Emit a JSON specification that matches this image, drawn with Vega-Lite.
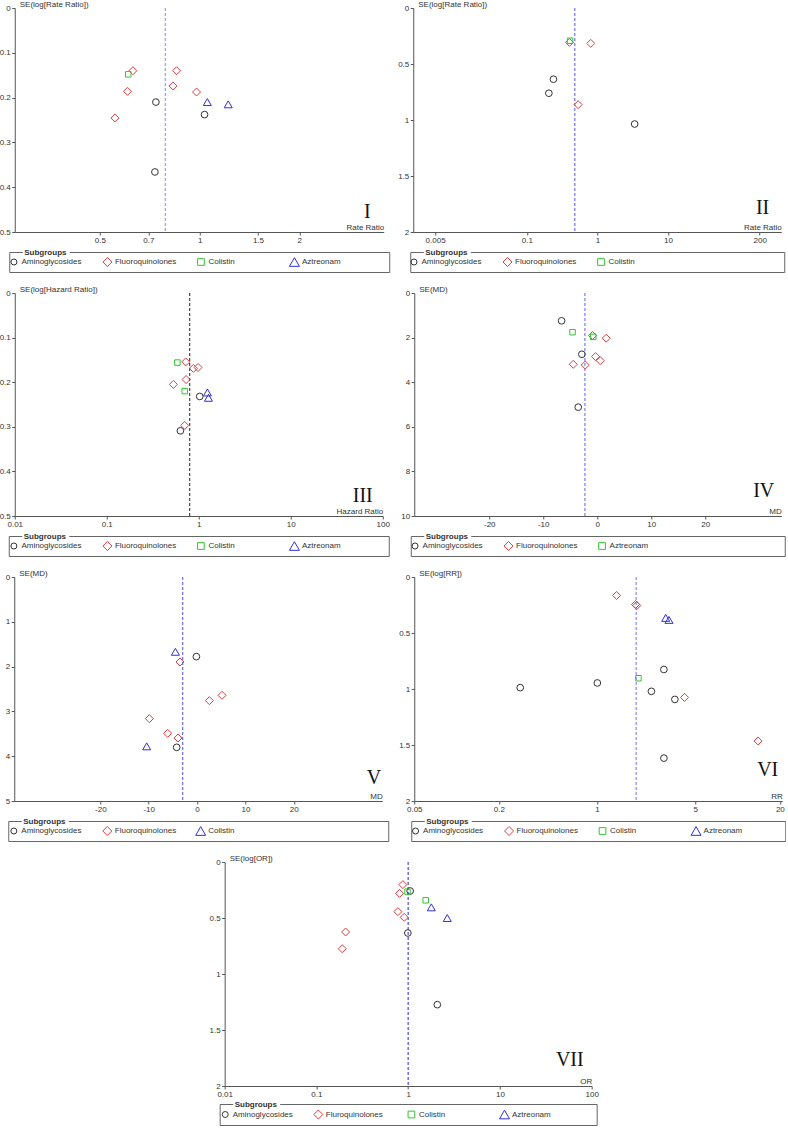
{
  "$schema": "https://vega.github.io/schema/vega-lite/v6.json",
  "background": "white",
  "padding": {"left": -1, "top": 0, "right": 0, "bottom": 0},
  "config": {
    "font": "Liberation Sans",
    "view": {"stroke": null},
    "legend": {"disable": true},
    "axis": {"grid": false, "domainColor": "#555", "tickColor": "#555", "labelColor": "#333", "titleColor": "#333", "labelFontSize": 8, "titleFontSize": 8, "titleFontWeight": "normal", "tickSize": 3, "labelPadding": 1.5, "labelFlush": false, "labelOverlap": false, "domainWidth": 1, "tickWidth": 1, "labelExpr": "'' + datum.value"},
    "axisY": {"titleAngle": 0, "titleAlign": "left", "titleBaseline": "alphabetic", "titleX": 4.5, "titleY": -1.5},
    "axisX": {"titleAlign": "right", "titleAnchor": "end", "titleBaseline": "alphabetic", "titleY": -3}
  },
  "datasets": {
    "I_pts": [
      {"group": "Aminoglycosides", "effect": 0.738, "se": 0.210},
      {"group": "Aminoglycosides", "effect": 1.035, "se": 0.238},
      {"group": "Aminoglycosides", "effect": 0.733, "se": 0.366},
      {"group": "Fluoroquinolones", "effect": 0.629, "se": 0.140},
      {"group": "Fluoroquinolones", "effect": 0.852, "se": 0.140},
      {"group": "Fluoroquinolones", "effect": 0.831, "se": 0.174},
      {"group": "Fluoroquinolones", "effect": 0.606, "se": 0.186},
      {"group": "Fluoroquinolones", "effect": 0.979, "se": 0.1875},
      {"group": "Fluoroquinolones", "effect": 0.555, "se": 0.2455},
      {"group": "Colistin", "effect": 0.609, "se": 0.148},
      {"group": "Aztreonam", "effect": 1.055, "se": 0.210},
      {"group": "Aztreonam", "effect": 1.22, "se": 0.215}
    ],
    "I_pool": [{"pooled": 0.788}],
    "II_pts": [
      {"group": "Aminoglycosides", "effect": 0.238, "se": 0.636},
      {"group": "Aminoglycosides", "effect": 0.205, "se": 0.761},
      {"group": "Aminoglycosides", "effect": 3.375, "se": 1.036},
      {"group": "Fluoroquinolones", "effect": 0.402, "se": 0.307},
      {"group": "Fluoroquinolones", "effect": 0.805, "se": 0.316},
      {"group": "Fluoroquinolones", "effect": 0.533, "se": 0.863},
      {"group": "Colistin", "effect": 0.410, "se": 0.2925}
    ],
    "II_pool": [{"pooled": 0.478}],
    "III_pts": [
      {"group": "Aminoglycosides", "effect": 1.025, "se": 0.232},
      {"group": "Aminoglycosides", "effect": 0.632, "se": 0.309},
      {"group": "Fluoroquinolones", "effect": 0.722, "se": 0.1545},
      {"group": "Fluoroquinolones", "effect": 0.875, "se": 0.169},
      {"group": "Fluoroquinolones", "effect": 0.983, "se": 0.167},
      {"group": "Fluoroquinolones", "effect": 0.728, "se": 0.194},
      {"group": "Fluoroquinolones", "effect": 0.530, "se": 0.205},
      {"group": "Fluoroquinolones", "effect": 0.704, "se": 0.297},
      {"group": "Colistin", "effect": 0.586, "se": 0.156},
      {"group": "Colistin", "effect": 0.704, "se": 0.220},
      {"group": "Aztreonam", "effect": 1.242, "se": 0.223},
      {"group": "Aztreonam", "effect": 1.274, "se": 0.235}
    ],
    "III_pool": [{"pooled": 0.798}],
    "IV_pts": [
      {"group": "Aminoglycosides", "effect": -6.6, "se": 1.246},
      {"group": "Aminoglycosides", "effect": -2.84, "se": 2.748},
      {"group": "Aminoglycosides", "effect": -3.52, "se": 5.12},
      {"group": "Fluoroquinolones", "effect": -0.86, "se": 1.907},
      {"group": "Fluoroquinolones", "effect": 1.67, "se": 2.027},
      {"group": "Fluoroquinolones", "effect": -0.31, "se": 2.853},
      {"group": "Fluoroquinolones", "effect": 0.56, "se": 3.033},
      {"group": "Fluoroquinolones", "effect": -4.44, "se": 3.198},
      {"group": "Fluoroquinolones", "effect": -2.22, "se": 3.228},
      {"group": "Aztreonam", "effect": -4.57, "se": 1.757},
      {"group": "Aztreonam", "effect": -0.74, "se": 1.967}
    ],
    "IV_pool": [{"pooled": -2.28}],
    "V_pts": [
      {"group": "Aminoglycosides", "effect": -0.14, "se": 1.778},
      {"group": "Aminoglycosides", "effect": -4.21, "se": 3.802},
      {"group": "Fluoroquinolones", "effect": -3.52, "se": 1.897},
      {"group": "Fluoroquinolones", "effect": 5.17, "se": 2.641},
      {"group": "Fluoroquinolones", "effect": 2.55, "se": 2.76},
      {"group": "Fluoroquinolones", "effect": -9.86, "se": 3.162},
      {"group": "Fluoroquinolones", "effect": -6.07, "se": 3.49},
      {"group": "Fluoroquinolones", "effect": -3.93, "se": 3.594},
      {"group": "Colistin", "effect": -4.48, "se": 1.67},
      {"group": "Colistin", "effect": -10.41, "se": 3.78}
    ],
    "V_pool": [{"pooled": -2.97}],
    "VI_pts": [
      {"group": "Aminoglycosides", "effect": 2.99, "se": 0.826},
      {"group": "Aminoglycosides", "effect": 0.284, "se": 0.988},
      {"group": "Aminoglycosides", "effect": 1.005, "se": 0.946},
      {"group": "Aminoglycosides", "effect": 2.437, "se": 1.021},
      {"group": "Aminoglycosides", "effect": 3.58, "se": 1.093},
      {"group": "Aminoglycosides", "effect": 2.99, "se": 1.617},
      {"group": "Fluoroquinolones", "effect": 1.378, "se": 0.1647},
      {"group": "Fluoroquinolones", "effect": 1.878, "se": 0.2455},
      {"group": "Fluoroquinolones", "effect": 1.919, "se": 0.2545},
      {"group": "Fluoroquinolones", "effect": 4.194, "se": 1.075},
      {"group": "Fluoroquinolones", "effect": 14.0, "se": 1.464},
      {"group": "Colistin", "effect": 1.971, "se": 0.904},
      {"group": "Aztreonam", "effect": 3.08, "se": 0.365},
      {"group": "Aztreonam", "effect": 3.25, "se": 0.383}
    ],
    "VI_pool": [{"pooled": 1.898}],
    "VII_pts": [
      {"group": "Aminoglycosides", "effect": 1.051, "se": 0.259},
      {"group": "Aminoglycosides", "effect": 0.992, "se": 0.634},
      {"group": "Aminoglycosides", "effect": 2.078, "se": 1.274},
      {"group": "Fluroquinolones", "effect": 0.876, "se": 0.202},
      {"group": "Fluroquinolones", "effect": 0.806, "se": 0.280},
      {"group": "Fluroquinolones", "effect": 0.773, "se": 0.443},
      {"group": "Fluroquinolones", "effect": 0.905, "se": 0.494},
      {"group": "Fluroquinolones", "effect": 0.208, "se": 0.625},
      {"group": "Fluroquinolones", "effect": 0.191, "se": 0.774},
      {"group": "Colistin", "effect": 0.983, "se": 0.265},
      {"group": "Colistin", "effect": 1.553, "se": 0.342},
      {"group": "Aztreonam", "effect": 1.789, "se": 0.405},
      {"group": "Aztreonam", "effect": 2.667, "se": 0.5}
    ],
    "VII_pool": [{"pooled": 1.0}],
    "empty": []
  },
  "spacing": 12,
  "center": true,
  "resolve": {"scale": {"color": "independent", "shape": "independent", "size": "independent"}},
  "vconcat": [
    {
      "hconcat": [
        {
          "vconcat": [
            {
              "width": 369, "height": 224,
              "title": {"text": "I", "orient": "bottom", "anchor": "end", "frame": "group", "font": "Liberation Serif", "fontSize": 20, "fontWeight": "normal", "color": "#111", "offset": 0, "dx": -13, "dy": -43},
              "layer": [
                {"data": {"name": "I_pool"}, "mark": {"type": "rule", "strokeDash": [3, 2], "color": "#9a9af0", "strokeWidth": 1.2},
                 "encoding": {"x": {"field": "pooled", "type": "quantitative", "scale": {"type": "log", "domain": [0.2767, 3.596], "nice": false}, "axis": {"values": [0.5, 0.7, 1, 1.5, 2], "title": "Rate Ratio", "titleX": 369}}}},
                {"data": {"name": "I_pts"}, "mark": {"type": "point", "filled": false, "opacity": 1, "strokeWidth": 1},
                 "encoding": {
                   "x": {"field": "effect", "type": "quantitative", "scale": {"type": "log", "domain": [0.2767, 3.596], "nice": false}, "axis": {"values": [0.5, 0.7, 1, 1.5, 2], "title": "Rate Ratio", "titleX": 369}},
                   "y": {"field": "se", "type": "quantitative", "scale": {"domain": [0, 0.5], "reverse": true, "nice": false, "zero": false}, "axis": {"values": [0, 0.1, 0.2, 0.3, 0.4, 0.5], "title": "SE(log[Rate Ratio])"}},
                   "color": {"field": "group", "type": "nominal", "scale": {"domain": ["Aminoglycosides", "Fluoroquinolones", "Colistin", "Aztreonam"], "range": ["#333333", "#e23c3c", "#33c433", "#3030e0"]}},
                   "shape": {"field": "group", "type": "nominal", "scale": {"domain": ["Aminoglycosides", "Fluoroquinolones", "Colistin", "Aztreonam"], "range": ["circle", "diamond", "square", "triangle-up"]}},
                   "size": {"field": "group", "type": "nominal", "scale": {"type": "ordinal", "domain": ["Aminoglycosides", "Fluoroquinolones", "Colistin", "Aztreonam"], "range": [45, 64, 30, 64]}}
                 }}
              ]
            },
            {
              "width": 380, "height": 20,
              "view": {"stroke": "#666", "strokeWidth": 1, "strokeDash": [13, 47, 2000]},
              "title": {"text": "Subgroups", "anchor": "start", "frame": "group", "orient": "top", "offset": -2, "dy": 9, "baseline": "alphabetic", "fontSize": 8, "fontWeight": "bold", "color": "#333", "dx": 15},
              "data": {"name": "I_pts"},
              "transform": [{"aggregate": [{"op": "count", "as": "n"}], "groupby": ["group"]}],
              "encoding": {"x": {"field": "group", "type": "nominal", "bandPosition": 0.05, "scale": {"type": "band", "domain": ["Aminoglycosides", "Fluoroquinolones", "Colistin", "Aztreonam"], "paddingInner": 0, "paddingOuter": 0.032, "align": 0}, "axis": null}},
              "layer": [
                {"mark": {"type": "point", "filled": false, "opacity": 1, "strokeWidth": 1},
                 "encoding": {
                   "color": {"field": "group", "type": "nominal", "scale": {"domain": ["Aminoglycosides", "Fluoroquinolones", "Colistin", "Aztreonam"], "range": ["#333333", "#e23c3c", "#33c433", "#3030e0"]}},
                   "shape": {"field": "group", "type": "nominal", "scale": {"domain": ["Aminoglycosides", "Fluoroquinolones", "Colistin", "Aztreonam"], "range": ["circle", "diamond", "square", "triangle-up"]}},
                   "size": {"field": "group", "type": "nominal", "scale": {"type": "ordinal", "domain": ["Aminoglycosides", "Fluoroquinolones", "Colistin", "Aztreonam"], "range": [36, 81, 45, 100]}}
                 }},
                {"mark": {"type": "text", "align": "left", "baseline": "middle", "dx": 7.5, "fontSize": 8, "color": "#333"}, "encoding": {"text": {"field": "group"}}}
              ]
            }
          ],
          "spacing": 20, "center": true, "bounds": "flush",
          "resolve": {"scale": {"color": "independent", "shape": "independent", "size": "independent"}}
        },
        {
          "vconcat": [
            {
              "width": 368, "height": 224,
              "title": {"text": "II", "orient": "bottom", "anchor": "end", "frame": "group", "font": "Liberation Serif", "fontSize": 20, "fontWeight": "normal", "color": "#111", "offset": 0, "dx": -12, "dy": -47},
              "layer": [
                {"data": {"name": "II_pool"}, "mark": {"type": "rule", "strokeDash": [3, 2], "color": "#7373ee", "strokeWidth": 1.2},
                 "encoding": {"x": {"field": "pooled", "type": "quantitative", "scale": {"type": "log", "domain": [0.00245, 404], "nice": false}, "axis": {"values": [0.005, 0.1, 1, 10, 200], "title": "Rate Ratio", "titleX": 368}}}},
                {"data": {"name": "II_pts"}, "mark": {"type": "point", "filled": false, "opacity": 1, "strokeWidth": 1},
                 "encoding": {
                   "x": {"field": "effect", "type": "quantitative", "scale": {"type": "log", "domain": [0.00245, 404], "nice": false}, "axis": {"values": [0.005, 0.1, 1, 10, 200], "title": "Rate Ratio", "titleX": 368}},
                   "y": {"field": "se", "type": "quantitative", "scale": {"domain": [0, 2], "reverse": true, "nice": false, "zero": false}, "axis": {"values": [0, 0.5, 1, 1.5, 2], "title": "SE(log[Rate Ratio])"}},
                   "color": {"field": "group", "type": "nominal", "scale": {"domain": ["Aminoglycosides", "Fluoroquinolones", "Colistin"], "range": ["#333333", "#e23c3c", "#33c433"]}},
                   "shape": {"field": "group", "type": "nominal", "scale": {"domain": ["Aminoglycosides", "Fluoroquinolones", "Colistin"], "range": ["circle", "diamond", "square"]}},
                   "size": {"field": "group", "type": "nominal", "scale": {"type": "ordinal", "domain": ["Aminoglycosides", "Fluoroquinolones", "Colistin"], "range": [45, 64, 30]}}
                 }}
              ]
            },
            {
              "width": 374, "height": 20,
              "view": {"stroke": "#666", "strokeWidth": 1, "strokeDash": [13, 47, 2000]},
              "title": {"text": "Subgroups", "anchor": "start", "frame": "group", "orient": "top", "offset": -2, "dy": 9, "baseline": "alphabetic", "fontSize": 8, "fontWeight": "bold", "color": "#333", "dx": 15},
              "data": {"name": "II_pts"},
              "transform": [{"aggregate": [{"op": "count", "as": "n"}], "groupby": ["group"]}],
              "encoding": {"x": {"field": "group", "type": "nominal", "bandPosition": 0.04, "scale": {"type": "band", "domain": ["Aminoglycosides", "Fluoroquinolones", "Colistin"], "paddingInner": 0, "paddingOuter": 0.5, "align": 0}, "axis": null}},
              "layer": [
                {"mark": {"type": "point", "filled": false, "opacity": 1, "strokeWidth": 1},
                 "encoding": {
                   "color": {"field": "group", "type": "nominal", "scale": {"domain": ["Aminoglycosides", "Fluoroquinolones", "Colistin"], "range": ["#333333", "#e23c3c", "#33c433"]}},
                   "shape": {"field": "group", "type": "nominal", "scale": {"domain": ["Aminoglycosides", "Fluoroquinolones", "Colistin"], "range": ["circle", "diamond", "square"]}},
                   "size": {"field": "group", "type": "nominal", "scale": {"type": "ordinal", "domain": ["Aminoglycosides", "Fluoroquinolones", "Colistin"], "range": [36, 81, 45]}}
                 }},
                {"mark": {"type": "text", "align": "left", "baseline": "middle", "dx": 7.5, "fontSize": 8, "color": "#333"}, "encoding": {"text": {"field": "group"}}}
              ]
            }
          ],
          "spacing": 20, "center": true, "bounds": "flush",
          "resolve": {"scale": {"color": "independent", "shape": "independent", "size": "independent"}}
        }
      ],
      "spacing": 7,
      "resolve": {"scale": {"color": "independent", "shape": "independent", "size": "independent"}}
    },
    {
      "hconcat": [
        {
          "vconcat": [
            {
              "width": 368, "height": 223,
              "title": {"text": "III", "orient": "bottom", "anchor": "end", "frame": "group", "font": "Liberation Serif", "fontSize": 20, "fontWeight": "normal", "color": "#111", "offset": 0, "dx": -10, "dy": -43},
              "layer": [
                {"data": {"name": "III_pool"}, "mark": {"type": "rule", "strokeDash": [3, 2], "color": "#222", "strokeWidth": 1},
                 "encoding": {"x": {"field": "pooled", "type": "quantitative", "scale": {"type": "log", "domain": [0.01, 100], "nice": false}, "axis": {"values": [0.01, 0.1, 1, 10, 100], "title": "Hazard Ratio", "titleX": 368}}}},
                {"data": {"name": "III_pts"}, "mark": {"type": "point", "filled": false, "opacity": 1, "strokeWidth": 1},
                 "encoding": {
                   "x": {"field": "effect", "type": "quantitative", "scale": {"type": "log", "domain": [0.01, 100], "nice": false}, "axis": {"values": [0.01, 0.1, 1, 10, 100], "title": "Hazard Ratio", "titleX": 368}},
                   "y": {"field": "se", "type": "quantitative", "scale": {"domain": [0, 0.5], "reverse": true, "nice": false, "zero": false}, "axis": {"values": [0, 0.1, 0.2, 0.3, 0.4, 0.5], "title": "SE(log[Hazard Ratio])"}},
                   "color": {"field": "group", "type": "nominal", "scale": {"domain": ["Aminoglycosides", "Fluoroquinolones", "Colistin", "Aztreonam"], "range": ["#333333", "#e23c3c", "#33c433", "#3030e0"]}},
                   "shape": {"field": "group", "type": "nominal", "scale": {"domain": ["Aminoglycosides", "Fluoroquinolones", "Colistin", "Aztreonam"], "range": ["circle", "diamond", "square", "triangle-up"]}},
                   "size": {"field": "group", "type": "nominal", "scale": {"type": "ordinal", "domain": ["Aminoglycosides", "Fluoroquinolones", "Colistin", "Aztreonam"], "range": [45, 64, 30, 64]}}
                 }}
              ]
            },
            {
              "width": 380, "height": 20,
              "view": {"stroke": "#666", "strokeWidth": 1, "strokeDash": [13, 47, 2000]},
              "title": {"text": "Subgroups", "anchor": "start", "frame": "group", "orient": "top", "offset": -2, "dy": 9, "baseline": "alphabetic", "fontSize": 8, "fontWeight": "bold", "color": "#333", "dx": 15},
              "data": {"name": "III_pts"},
              "transform": [{"aggregate": [{"op": "count", "as": "n"}], "groupby": ["group"]}],
              "encoding": {"x": {"field": "group", "type": "nominal", "bandPosition": 0.055, "scale": {"type": "band", "domain": ["Aminoglycosides", "Fluoroquinolones", "Colistin", "Aztreonam"], "paddingInner": 0, "paddingOuter": 0.032, "align": 0}, "axis": null}},
              "layer": [
                {"mark": {"type": "point", "filled": false, "opacity": 1, "strokeWidth": 1},
                 "encoding": {
                   "color": {"field": "group", "type": "nominal", "scale": {"domain": ["Aminoglycosides", "Fluoroquinolones", "Colistin", "Aztreonam"], "range": ["#333333", "#e23c3c", "#33c433", "#3030e0"]}},
                   "shape": {"field": "group", "type": "nominal", "scale": {"domain": ["Aminoglycosides", "Fluoroquinolones", "Colistin", "Aztreonam"], "range": ["circle", "diamond", "square", "triangle-up"]}},
                   "size": {"field": "group", "type": "nominal", "scale": {"type": "ordinal", "domain": ["Aminoglycosides", "Fluoroquinolones", "Colistin", "Aztreonam"], "range": [36, 81, 45, 100]}}
                 }},
                {"mark": {"type": "text", "align": "left", "baseline": "middle", "dx": 7.5, "fontSize": 8, "color": "#333"}, "encoding": {"text": {"field": "group"}}}
              ]
            }
          ],
          "spacing": 20, "center": true, "bounds": "flush",
          "resolve": {"scale": {"color": "independent", "shape": "independent", "size": "independent"}}
        },
        {
          "vconcat": [
            {
              "width": 367, "height": 223,
              "title": {"text": "IV", "orient": "bottom", "anchor": "end", "frame": "group", "font": "Liberation Serif", "fontSize": 20, "fontWeight": "normal", "color": "#111", "offset": 0, "dx": -7, "dy": -48},
              "layer": [
                {"data": {"name": "IV_pool"}, "mark": {"type": "rule", "strokeDash": [3, 2], "color": "#7b7bee", "strokeWidth": 1.2},
                 "encoding": {"x": {"field": "pooled", "type": "quantitative", "scale": {"domain": [-33.9, 34.1], "nice": false, "zero": false}, "axis": {"values": [-20, -10, 0, 10, 20], "title": "MD", "titleX": 367}}}},
                {"data": {"name": "IV_pts"}, "mark": {"type": "point", "filled": false, "opacity": 1, "strokeWidth": 1},
                 "encoding": {
                   "x": {"field": "effect", "type": "quantitative", "scale": {"domain": [-33.9, 34.1], "nice": false, "zero": false}, "axis": {"values": [-20, -10, 0, 10, 20], "title": "MD", "titleX": 367}},
                   "y": {"field": "se", "type": "quantitative", "scale": {"domain": [0, 10], "reverse": true, "nice": false, "zero": false}, "axis": {"values": [0, 2, 4, 6, 8, 10], "title": "SE(MD)"}},
                   "color": {"field": "group", "type": "nominal", "scale": {"domain": ["Aminoglycosides", "Fluoroquinolones", "Aztreonam"], "range": ["#333333", "#e23c3c", "#33c433"]}},
                   "shape": {"field": "group", "type": "nominal", "scale": {"domain": ["Aminoglycosides", "Fluoroquinolones", "Aztreonam"], "range": ["circle", "diamond", "square"]}},
                   "size": {"field": "group", "type": "nominal", "scale": {"type": "ordinal", "domain": ["Aminoglycosides", "Fluoroquinolones", "Aztreonam"], "range": [45, 64, 30]}}
                 }}
              ]
            },
            {
              "width": 374, "height": 20,
              "view": {"stroke": "#666", "strokeWidth": 1, "strokeDash": [13, 47, 2000]},
              "title": {"text": "Subgroups", "anchor": "start", "frame": "group", "orient": "top", "offset": -2, "dy": 9, "baseline": "alphabetic", "fontSize": 8, "fontWeight": "bold", "color": "#333", "dx": 15},
              "data": {"name": "IV_pts"},
              "transform": [{"aggregate": [{"op": "count", "as": "n"}], "groupby": ["group"]}],
              "encoding": {"x": {"field": "group", "type": "nominal", "bandPosition": 0.046, "scale": {"type": "band", "domain": ["Aminoglycosides", "Fluoroquinolones", "Aztreonam"], "paddingInner": 0, "paddingOuter": 0.5, "align": 0}, "axis": null}},
              "layer": [
                {"mark": {"type": "point", "filled": false, "opacity": 1, "strokeWidth": 1},
                 "encoding": {
                   "color": {"field": "group", "type": "nominal", "scale": {"domain": ["Aminoglycosides", "Fluoroquinolones", "Aztreonam"], "range": ["#333333", "#e23c3c", "#33c433"]}},
                   "shape": {"field": "group", "type": "nominal", "scale": {"domain": ["Aminoglycosides", "Fluoroquinolones", "Aztreonam"], "range": ["circle", "diamond", "square"]}},
                   "size": {"field": "group", "type": "nominal", "scale": {"type": "ordinal", "domain": ["Aminoglycosides", "Fluoroquinolones", "Aztreonam"], "range": [36, 81, 45]}}
                 }},
                {"mark": {"type": "text", "align": "left", "baseline": "middle", "dx": 7.5, "fontSize": 8, "color": "#333"}, "encoding": {"text": {"field": "group"}}}
              ]
            }
          ],
          "spacing": 20, "center": true, "bounds": "flush",
          "resolve": {"scale": {"color": "independent", "shape": "independent", "size": "independent"}}
        }
      ],
      "spacing": 11,
      "resolve": {"scale": {"color": "independent", "shape": "independent", "size": "independent"}}
    },
    {
      "hconcat": [
        {
          "vconcat": [
            {
              "width": 368, "height": 224,
              "title": {"text": "V", "orient": "bottom", "anchor": "end", "frame": "group", "font": "Liberation Serif", "fontSize": 20, "fontWeight": "normal", "color": "#111", "offset": 0, "dx": -1, "dy": -45.5},
              "layer": [
                {"data": {"name": "V_pool"}, "mark": {"type": "rule", "strokeDash": [3, 2], "color": "#6a6aee", "strokeWidth": 1.2},
                 "encoding": {"x": {"field": "pooled", "type": "quantitative", "scale": {"domain": [-37.8, 38.3], "nice": false, "zero": false}, "axis": {"values": [-20, -10, 0, 10, 20], "title": "MD", "titleX": 368}}}},
                {"data": {"name": "V_pts"}, "mark": {"type": "point", "filled": false, "opacity": 1, "strokeWidth": 1},
                 "encoding": {
                   "x": {"field": "effect", "type": "quantitative", "scale": {"domain": [-37.8, 38.3], "nice": false, "zero": false}, "axis": {"values": [-20, -10, 0, 10, 20], "title": "MD", "titleX": 368}},
                   "y": {"field": "se", "type": "quantitative", "scale": {"domain": [0, 5], "reverse": true, "nice": false, "zero": false}, "axis": {"values": [0, 1, 2, 3, 4, 5], "title": "SE(MD)"}},
                   "color": {"field": "group", "type": "nominal", "scale": {"domain": ["Aminoglycosides", "Fluoroquinolones", "Colistin"], "range": ["#333333", "#e23c3c", "#3030e0"]}},
                   "shape": {"field": "group", "type": "nominal", "scale": {"domain": ["Aminoglycosides", "Fluoroquinolones", "Colistin"], "range": ["circle", "diamond", "triangle-up"]}},
                   "size": {"field": "group", "type": "nominal", "scale": {"type": "ordinal", "domain": ["Aminoglycosides", "Fluoroquinolones", "Colistin"], "range": [45, 64, 64]}}
                 }}
              ]
            },
            {
              "width": 380, "height": 20,
              "view": {"stroke": "#666", "strokeWidth": 1, "strokeDash": [13, 47, 2000]},
              "title": {"text": "Subgroups", "anchor": "start", "frame": "group", "orient": "top", "offset": -2, "dy": 9, "baseline": "alphabetic", "fontSize": 8, "fontWeight": "bold", "color": "#333", "dx": 15},
              "data": {"name": "V_pts"},
              "transform": [{"aggregate": [{"op": "count", "as": "n"}], "groupby": ["group"]}],
              "encoding": {"x": {"field": "group", "type": "nominal", "bandPosition": 0.06, "scale": {"type": "band", "domain": ["Aminoglycosides", "Fluoroquinolones", "Colistin"], "paddingInner": 0, "paddingOuter": 0.534, "align": 0}, "axis": null}},
              "layer": [
                {"mark": {"type": "point", "filled": false, "opacity": 1, "strokeWidth": 1},
                 "encoding": {
                   "color": {"field": "group", "type": "nominal", "scale": {"domain": ["Aminoglycosides", "Fluoroquinolones", "Colistin"], "range": ["#333333", "#e23c3c", "#3030e0"]}},
                   "shape": {"field": "group", "type": "nominal", "scale": {"domain": ["Aminoglycosides", "Fluoroquinolones", "Colistin"], "range": ["circle", "diamond", "triangle-up"]}},
                   "size": {"field": "group", "type": "nominal", "scale": {"type": "ordinal", "domain": ["Aminoglycosides", "Fluoroquinolones", "Colistin"], "range": [36, 81, 100]}}
                 }},
                {"mark": {"type": "text", "align": "left", "baseline": "middle", "dx": 7.5, "fontSize": 8, "color": "#333"}, "encoding": {"text": {"field": "group"}}}
              ]
            }
          ],
          "spacing": 20, "center": true, "bounds": "flush",
          "resolve": {"scale": {"color": "independent", "shape": "independent", "size": "independent"}}
        },
        {
          "vconcat": [
            {
              "width": 368, "height": 224,
              "title": {"text": "VI", "orient": "bottom", "anchor": "end", "frame": "group", "font": "Liberation Serif", "fontSize": 20, "fontWeight": "normal", "color": "#111", "offset": 0, "dx": -4, "dy": -54},
              "layer": [
                {"data": {"name": "VI_pool"}, "mark": {"type": "rule", "strokeDash": [3, 2], "color": "#8a8af0", "strokeWidth": 1.2},
                 "encoding": {"x": {"field": "pooled", "type": "quantitative", "scale": {"type": "log", "domain": [0.05, 20.8], "nice": false}, "axis": {"values": [0.05, 0.2, 1, 5, 20], "title": "RR", "titleX": 368}}}},
                {"data": {"name": "VI_pts"}, "mark": {"type": "point", "filled": false, "opacity": 1, "strokeWidth": 1},
                 "encoding": {
                   "x": {"field": "effect", "type": "quantitative", "scale": {"type": "log", "domain": [0.05, 20.8], "nice": false}, "axis": {"values": [0.05, 0.2, 1, 5, 20], "title": "RR", "titleX": 368}},
                   "y": {"field": "se", "type": "quantitative", "scale": {"domain": [0, 2], "reverse": true, "nice": false, "zero": false}, "axis": {"values": [0, 0.5, 1, 1.5, 2], "title": "SE(log[RR])"}},
                   "color": {"field": "group", "type": "nominal", "scale": {"domain": ["Aminoglycosides", "Fluoroquinolones", "Colistin", "Aztreonam"], "range": ["#333333", "#e23c3c", "#33c433", "#3030e0"]}},
                   "shape": {"field": "group", "type": "nominal", "scale": {"domain": ["Aminoglycosides", "Fluoroquinolones", "Colistin", "Aztreonam"], "range": ["circle", "diamond", "square", "triangle-up"]}},
                   "size": {"field": "group", "type": "nominal", "scale": {"type": "ordinal", "domain": ["Aminoglycosides", "Fluoroquinolones", "Colistin", "Aztreonam"], "range": [45, 64, 30, 64]}}
                 }}
              ]
            },
            {
              "width": 374, "height": 20,
              "view": {"stroke": "#666", "strokeWidth": 1, "strokeDash": [13, 47, 2000]},
              "title": {"text": "Subgroups", "anchor": "start", "frame": "group", "orient": "top", "offset": -2, "dy": 9, "baseline": "alphabetic", "fontSize": 8, "fontWeight": "bold", "color": "#333", "dx": 15},
              "data": {"name": "VI_pts"},
              "transform": [{"aggregate": [{"op": "count", "as": "n"}], "groupby": ["group"]}],
              "encoding": {"x": {"field": "group", "type": "nominal", "bandPosition": 0.046, "scale": {"type": "band", "domain": ["Aminoglycosides", "Fluoroquinolones", "Colistin", "Aztreonam"], "paddingInner": 0, "paddingOuter": 0, "align": 0}, "axis": null}},
              "layer": [
                {"mark": {"type": "point", "filled": false, "opacity": 1, "strokeWidth": 1},
                 "encoding": {
                   "color": {"field": "group", "type": "nominal", "scale": {"domain": ["Aminoglycosides", "Fluoroquinolones", "Colistin", "Aztreonam"], "range": ["#333333", "#e23c3c", "#33c433", "#3030e0"]}},
                   "shape": {"field": "group", "type": "nominal", "scale": {"domain": ["Aminoglycosides", "Fluoroquinolones", "Colistin", "Aztreonam"], "range": ["circle", "diamond", "square", "triangle-up"]}},
                   "size": {"field": "group", "type": "nominal", "scale": {"type": "ordinal", "domain": ["Aminoglycosides", "Fluoroquinolones", "Colistin", "Aztreonam"], "range": [36, 81, 45, 100]}}
                 }},
                {"mark": {"type": "text", "align": "left", "baseline": "middle", "dx": 7.5, "fontSize": 8, "color": "#333"}, "encoding": {"text": {"field": "group"}}}
              ]
            }
          ],
          "spacing": 20, "center": true, "bounds": "flush",
          "resolve": {"scale": {"color": "independent", "shape": "independent", "size": "independent"}}
        }
      ],
      "spacing": 9,
      "resolve": {"scale": {"color": "independent", "shape": "independent", "size": "independent"}}
    },
    {
      "hconcat": [
        {"width": 13, "height": 10, "data": {"name": "empty"}, "mark": "point", "encoding": {}},
        {
          "vconcat": [
            {
              "width": 367, "height": 224,
              "title": {"text": "VII", "orient": "bottom", "anchor": "end", "frame": "group", "font": "Liberation Serif", "fontSize": 20, "fontWeight": "normal", "color": "#111", "offset": 0, "dx": -8, "dy": -49},
              "layer": [
                {"data": {"name": "VII_pool"}, "mark": {"type": "rule", "strokeDash": [3, 2], "color": "#4a4ae8", "strokeWidth": 1.2},
                 "encoding": {"x": {"field": "pooled", "type": "quantitative", "scale": {"type": "log", "domain": [0.01, 100], "nice": false}, "axis": {"values": [0.01, 0.1, 1, 10, 100], "title": "OR", "titleX": 367}}}},
                {"data": {"name": "VII_pts"}, "mark": {"type": "point", "filled": false, "opacity": 1, "strokeWidth": 1},
                 "encoding": {
                   "x": {"field": "effect", "type": "quantitative", "scale": {"type": "log", "domain": [0.01, 100], "nice": false}, "axis": {"values": [0.01, 0.1, 1, 10, 100], "title": "OR", "titleX": 367}},
                   "y": {"field": "se", "type": "quantitative", "scale": {"domain": [0, 2], "reverse": true, "nice": false, "zero": false}, "axis": {"values": [0, 0.5, 1, 1.5, 2], "title": "SE(log[OR])"}},
                   "color": {"field": "group", "type": "nominal", "scale": {"domain": ["Aminoglycosides", "Fluroquinolones", "Colistin", "Aztreonam"], "range": ["#333333", "#e23c3c", "#33c433", "#3030e0"]}},
                   "shape": {"field": "group", "type": "nominal", "scale": {"domain": ["Aminoglycosides", "Fluroquinolones", "Colistin", "Aztreonam"], "range": ["circle", "diamond", "square", "triangle-up"]}},
                   "size": {"field": "group", "type": "nominal", "scale": {"type": "ordinal", "domain": ["Aminoglycosides", "Fluroquinolones", "Colistin", "Aztreonam"], "range": [45, 64, 30, 64]}}
                 }}
              ]
            },
            {
              "width": 377, "height": 21,
              "view": {"stroke": "#666", "strokeWidth": 1, "strokeDash": [13, 47, 2000]},
              "title": {"text": "Subgroups", "anchor": "start", "frame": "group", "orient": "top", "offset": -2, "dy": 9, "baseline": "alphabetic", "fontSize": 8, "fontWeight": "bold", "color": "#333", "dx": 15},
              "data": {"name": "VII_pts"},
              "transform": [{"aggregate": [{"op": "count", "as": "n"}], "groupby": ["group"]}],
              "encoding": {"x": {"field": "group", "type": "nominal", "bandPosition": 0.06, "scale": {"type": "band", "domain": ["Aminoglycosides", "Fluroquinolones", "Colistin", "Aztreonam"], "paddingInner": 0, "paddingOuter": 0.025, "align": 0}, "axis": null}},
              "layer": [
                {"mark": {"type": "point", "filled": false, "opacity": 1, "strokeWidth": 1},
                 "encoding": {
                   "color": {"field": "group", "type": "nominal", "scale": {"domain": ["Aminoglycosides", "Fluroquinolones", "Colistin", "Aztreonam"], "range": ["#333333", "#e23c3c", "#33c433", "#3030e0"]}},
                   "shape": {"field": "group", "type": "nominal", "scale": {"domain": ["Aminoglycosides", "Fluroquinolones", "Colistin", "Aztreonam"], "range": ["circle", "diamond", "square", "triangle-up"]}},
                   "size": {"field": "group", "type": "nominal", "scale": {"type": "ordinal", "domain": ["Aminoglycosides", "Fluroquinolones", "Colistin", "Aztreonam"], "range": [36, 81, 45, 100]}}
                 }},
                {"mark": {"type": "text", "align": "left", "baseline": "middle", "dx": 7.5, "fontSize": 8, "color": "#333"}, "encoding": {"text": {"field": "group"}}}
              ]
            }
          ],
          "spacing": 18, "center": true, "bounds": "flush",
          "resolve": {"scale": {"color": "independent", "shape": "independent", "size": "independent"}}
        }
      ],
      "spacing": 0,
      "resolve": {"scale": {"color": "independent", "shape": "independent", "size": "independent"}}
    }
  ]
}
